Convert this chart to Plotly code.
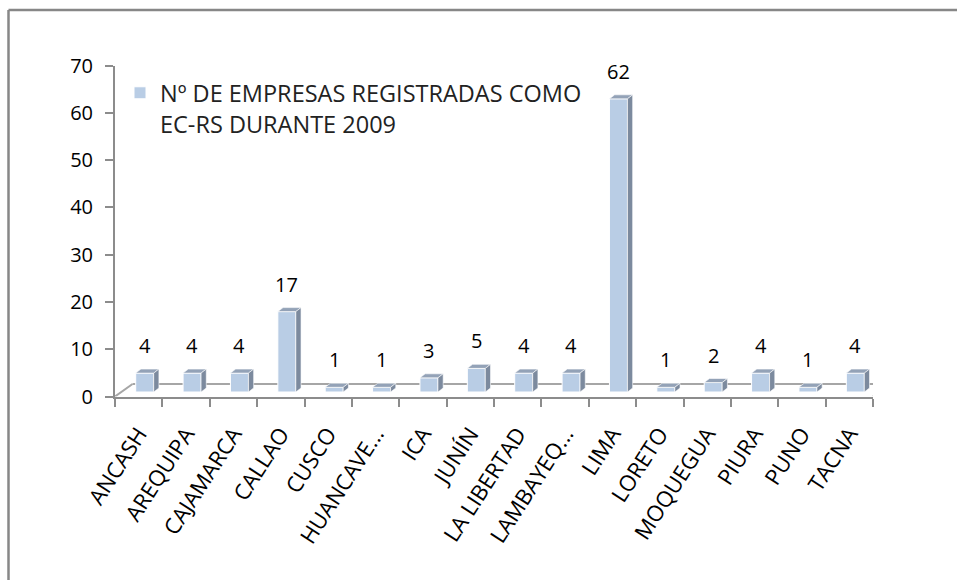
import plotly.graph_objects as go

REGIONS = ["ANCASH", "AREQUIPA", "CAJAMARCA", "CALLAO", "CUSCO", "HUANCAVE...", "ICA",
           "JUNÍN", "LA LIBERTAD", "LAMBAYEQ...", "LIMA", "LORETO", "MOQUEGUA",
           "PIURA", "PUNO", "TACNA"]
EMPRESAS = [4, 4, 4, 17, 1, 1, 3, 5, 4, 4, 62, 1, 2, 4, 1, 4]
SERIES_NAME = "Nº DE EMPRESAS REGISTRADAS COMO<br>EC-RS DURANTE 2009"

# styling / 3D-look constants
W, H = 957, 580
X0, X1 = 115, 873          # plot area px
Y0, Y1 = 396.5, 65.5       # y=0 and y=70 px
BASE = 0.95                # bars stand on the mid floor
OFF = -0.063               # face left offset from category centre
BW = 0.38                  # face width
DX = 0.11                  # depth in x units
DY = 0.85                  # depth in y units
FACE = "#B9CDE5"
TOP = "#93A2B7"
SIDE = "#7C8A9E"
AXC = "#8C8C8C"
FONT = "Open Sans"

n = len(REGIONS)
xs = list(range(n))

fig = go.Figure()

# front faces
fig.add_trace(go.Bar(
    x=xs, y=EMPRESAS, base=[BASE] * n, offset=OFF, width=BW,
    marker=dict(color=FACE, line=dict(color="white", width=1)),
    name=SERIES_NAME, showlegend=True, hoverinfo="skip"))

# top and side faces as filled polygons
tx, ty, sx, sy = [], [], [], []
for i, v in enumerate(EMPRESAS):
    xl = i + OFF
    xr = xl + BW
    top = BASE + v
    tx += [xl, xr, xr + DX, xl + DX, xl, None]
    ty += [top, top, top + DY, top + DY, top, None]
    sx += [xr, xr, xr + DX, xr + DX, xr, None]
    sy += [BASE, top, top + DY, BASE + DY, BASE, None]
fig.add_trace(go.Scatter(x=tx, y=ty, mode="lines", fill="toself", fillcolor=TOP,
                         line=dict(color="white", width=0.6), showlegend=False, hoverinfo="skip"))
fig.add_trace(go.Scatter(x=sx, y=sy, mode="lines", fill="toself", fillcolor=SIDE,
                         line=dict(color="white", width=0.6), showlegend=False, hoverinfo="skip"))

# value labels
for i, v in enumerate(EMPRESAS):
    fig.add_annotation(x=i + OFF + BW / 2, y=BASE + v + DY, text=str(v), showarrow=False,
                       yanchor="bottom", yshift=8, font=dict(family=FONT, size=20, color="black"))

# floor (3D base) lines
FLOOR_Y = 2.64
FLOOR_DX = 0.37
shapes = [
    dict(type="line", xref="x", yref="y", x0=-0.5 + FLOOR_DX, x1=n - 0.5 + FLOOR_DX,
         y0=FLOOR_Y, y1=FLOOR_Y, line=dict(color="#A6A6A6", width=2), layer="below"),
    dict(type="line", xref="x", yref="y", x0=-0.5, x1=-0.5 + FLOOR_DX,
         y0=0, y1=FLOOR_Y, line=dict(color="#A6A6A6", width=2), layer="below"),
    dict(type="line", xref="x", yref="y", x0=n - 0.5, x1=n - 0.5 + FLOOR_DX,
         y0=0, y1=FLOOR_Y, line=dict(color="#A6A6A6", width=2), layer="below"),
    # outer chart frame (left and top edges; the rest is outside the picture)
    dict(type="line", xref="paper", yref="paper", x0=8.5 / W, x1=8.5 / W, y0=0, y1=1 - 10 / H,
         line=dict(color="#878787", width=2.5), layer="below"),
    dict(type="line", xref="paper", yref="paper", x0=8.5 / W, x1=1, y0=1 - 10 / H, y1=1 - 10 / H,
         line=dict(color="#878787", width=2.5), layer="below"),
    # white cover on the right edge
    dict(type="rect", xref="paper", yref="paper", x0=930 / W, x1=1, y0=0, y1=1 - 13 / H,
         line=dict(width=0), fillcolor="white", layer="above"),
]

fig.update_layout(
    width=W, height=H,
    margin=dict(l=0, r=0, t=0, b=0),
    paper_bgcolor="white", plot_bgcolor="white",
    barmode="overlay",
    shapes=shapes,
    showlegend=True,
    legend=dict(x=120 / W, y=1 - 71 / H, xanchor="left", yanchor="top",
                font=dict(family=FONT, size=23.5, color="#222222"),
                bgcolor="rgba(0,0,0,0)", valign="top", itemwidth=30),
    xaxis=dict(domain=[X0 / W, X1 / W], range=[-0.5, n - 0.5], showgrid=False, zeroline=False,
               showline=True, linecolor=AXC, linewidth=2,
               tickmode="array", tickvals=xs, ticktext=REGIONS, ticks="",
               tickangle=-57, tickfont=dict(family=FONT, size=22, color="black"),
               minor=dict(tickmode="array", tickvals=[i - 0.5 for i in range(n + 1)],
                          ticks="outside", ticklen=8, tickcolor=AXC, tickwidth=2, showgrid=False),
               ticklabelstandoff=14,
               automargin=False, fixedrange=True),
    yaxis=dict(domain=[1 - Y0 / H, 1 - Y1 / H], range=[0, 70], dtick=10, showgrid=False,
               zeroline=False, showline=True, linecolor=AXC, linewidth=2,
               ticks="outside", ticklen=8, tickcolor=AXC, tickwidth=2,
               ticklabelstandoff=8,
               tickfont=dict(family=FONT, size=20, color="black"),
               automargin=False, fixedrange=True),
)

fig.write_html("out.html", config={"displayModeBar": False},
               post_script="document.body.style.margin='0';document.body.style.overflow='hidden';")
